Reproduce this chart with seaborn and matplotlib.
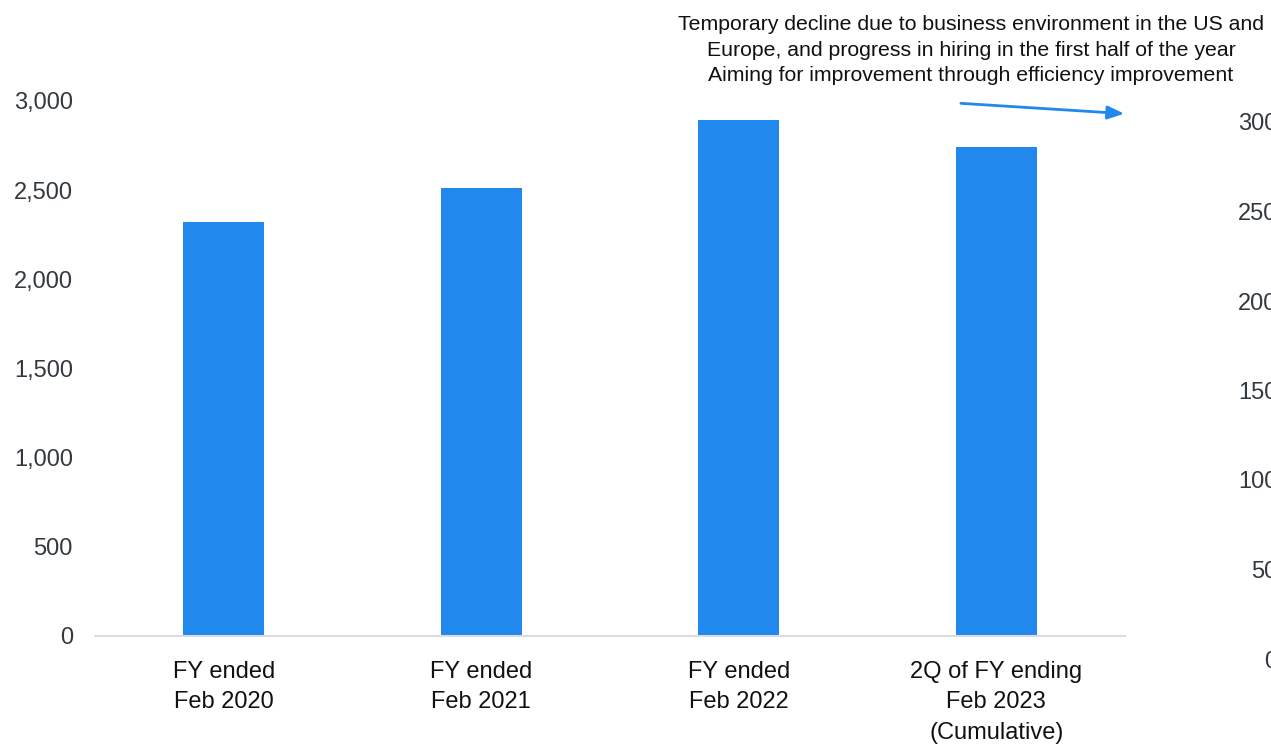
import matplotlib
matplotlib.use("Agg")
import matplotlib.pyplot as plt
import seaborn as sns
import pandas as pd

categories = ["FY ended\nFeb 2020", "FY ended\nFeb 2021", "FY ended\nFeb 2022",
              "2Q of FY ending\nFeb 2023\n(Cumulative)"]
values = [2322, 2512, 2894, 2742]
left_ticks = [0, 500, 1000, 1500, 2000, 2500, 3000]
right_ticks = [0, 50, 100, 150, 200, 250, 300]
note = ("Temporary decline due to business environment in the US and\n"
        "Europe, and progress in hiring in the first half of the year\n"
        "Aiming for improvement through efficiency improvement")

sns.set_style("white")
plt.rcParams['font.family'] = ['Liberation Sans', 'DejaVu Sans']

W, H = 1271, 748
fig = plt.figure(figsize=(W / 100, H / 100), dpi=100)
ax = fig.add_axes([95 / W, (H - 636) / H, (1125 - 95) / W, (636 - 101) / H])

df = pd.DataFrame({"cat": categories, "val": values})
sns.barplot(data=df, x="cat", y="val", color="#2188ED", saturation=1,
            width=0.314, ax=ax, edgecolor="none")
ax.set_xlim(-0.5, 3.5)
ax.set_ylim(0, 3000)
ax.set_yticks(left_ticks)
ax.set_yticklabels([f"{t:,}" for t in left_ticks])
ax.set_xlabel("")
ax.set_ylabel("")
for s in ["top", "right", "left"]:
    ax.spines[s].set_visible(False)
ax.spines["bottom"].set_color("#D9DDE3")
ax.spines["bottom"].set_linewidth(1.5)
ax.tick_params(axis="y", length=0, pad=16, labelsize=17, labelcolor="#333940")
ax.tick_params(axis="x", length=0, pad=18, labelsize=17, labelcolor="#111111")
for lbl in ax.get_xticklabels():
    lbl.set_linespacing(1.5)

# partially visible secondary axis at right edge
ax2 = fig.add_axes([1283 / W, (H - 659) / H, 0.2, (659 - 122) / H])
ax2.set_ylim(0, 300)
ax2.set_yticks(right_ticks)
ax2.set_yticklabels([str(t) for t in right_ticks])
ax2.set_xticks([])
for s in ax2.spines.values():
    s.set_visible(False)
ax2.patch.set_visible(False)
ax2.tick_params(axis="y", length=0, pad=4, labelsize=17, labelcolor="#333940")

fig.text(971 / W, 1 - 50 / H, note, ha="center", va="center",
         fontsize=15.3, color="#111111", linespacing=1.42)

ax.annotate("", xy=(1.002, 0.976), xytext=(0.838, 0.996),
            xycoords="axes fraction", textcoords="axes fraction",
            arrowprops=dict(arrowstyle="-|>,head_length=1.0,head_width=0.4",
                            color="#2188ED", lw=2), annotation_clip=False)

fig.savefig("out.png", dpi=100, facecolor="white")
